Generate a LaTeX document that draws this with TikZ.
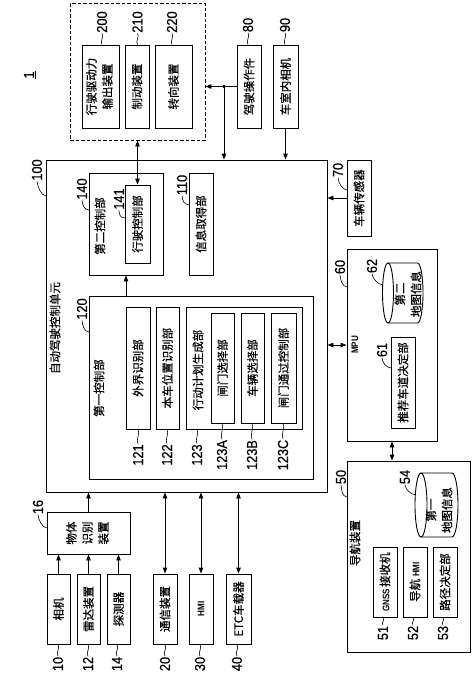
\documentclass[tikz,border=0pt]{standalone}
\usepackage{fontspec}
\usepackage{graphicx}
\setmainfont{Noto Sans CJK SC}[FakeBold=0.6]
\newfontfamily\numfont{Liberation Sans}[FakeStretch=0.88,FakeBold=0.4]
\newfontfamily\latfont{Liberation Sans}[FakeStretch=0.85]
\usetikzlibrary{arrows.meta,calc}
\newcommand\rt[1]{\rotatebox{90}{#1}}
\newcommand\rtt[2]{\rotatebox{90}{\begin{tabular}{@{}c@{}}#1\\#2\end{tabular}}}
\newcommand\rttt[3]{\rotatebox{90}{\begin{tabular}{@{}c@{}}#1\\#2\\#3\end{tabular}}}
\newcommand\smlat[1]{{\latfont\bfseries\fontsize{9.5}{10}\selectfont #1}}
% box from corner (x1,y1) to (x2,y2)
\newcommand\bx[6]{\node[box, minimum width={#4-#2}, minimum height={#5-#3}] (#1) at ({(#2+#4)/2},{(#3+#5)/2}) {#6};}
\begin{document}
\begin{tikzpicture}[x=1pt,y=-1pt,
  box/.style={draw, line width=0.9pt, inner sep=0pt, font=\fontsize{11.5}{16}\selectfont},
  lab/.style={rotate=90, inner sep=0.5pt, font=\numfont\fontsize{14.5}{14.5}\selectfont},
  txt/.style={rotate=90, inner sep=0pt, align=center, font=\fontsize{11.5}{16}\selectfont},
  lead/.style={line width=0.6pt},
  cyl/.style={line width=0.9pt},
  arr/.style={line width=0.9pt, -{Triangle[length=6pt,width=4.5pt]}},
  darr/.style={line width=0.9pt, {Triangle[length=6pt,width=4.5pt]}-{Triangle[length=6pt,width=4.5pt]}},
]
\useasboundingbox (0,0) rectangle (474,673);

% ---------- top row ----------
\node[box, dash pattern=on 3.5pt off 2pt, minimum width=135, minimum height=137] (dash) at (137.5,71.5) {};
\bx{b200}{82}{45}{119}{128}{\rtt{行驶驱动力}{输出装置}}
\bx{b210}{125}{45}{149}{128}{\rt{制动装置}}
\bx{b220}{155}{45}{192}{128}{\rt{转向装置}}
\bx{b80}{237}{45}{261}{128}{\rt{驾驶操作件}}
\bx{b90}{273}{45}{298}{128}{\rt{车室内相机}}

% ---------- automatic driving control unit ----------
\bx{b100}{46}{160}{327}{492}{}
\node[txt] (t100) at (55,328) {自动驾驶控制单元};
\bx{b140}{89}{173}{163}{275}{}
\node[txt] (t140) at (100,226) {第二控制部};
\bx{b141}{125}{185}{150}{263}{\rt{行驶控制部}}
\bx{b110}{189}{173}{213}{275}{\rt{信息取得部}}
\bx{b120}{89}{296}{313}{479}{}
\node[txt] (t120) at (99,388) {第一控制部};
\bx{b121}{126}{307}{150}{429}{\rt{外界识别部}}
\bx{b122}{156}{307}{179}{429}{\rt{本车位置识别部}}
\bx{b123}{186}{307}{302}{429}{}
\node[txt] (t123) at (198,370) {行动计划生成部};
\bx{b123A}{211}{313}{234}{423}{\rt{闸门选择部}}
\bx{b123B}{241}{313}{264}{423}{\rt{车辆选择部}}
\bx{b123C}{271}{313}{296}{423}{\rt{闸门通过控制部}}

% ---------- bottom left ----------
\bx{b16}{47}{512}{130}{554}{\rttt{物体}{识别}{装置}}
\bx{b10}{47}{574}{70}{644}{\rt{相机}}
\bx{b12}{77}{574}{100}{644}{\rt{雷达装置}}
\bx{b14}{107}{574}{130}{644}{\rt{探测器}}
\bx{b20}{153}{574}{177}{644}{\rt{通信装置}}
\bx{b30}{189}{574}{213}{644}{\rt{\smlat{HMI}}}
\bx{b40}{226}{574}{251}{644}{\rt{ETC车载器}}

% ---------- right column ----------
\bx{b70}{347}{160}{371}{236}{\rt{车辆传感器}}
\bx{b60}{347}{249}{437}{441}{}
\node[txt, font=\latfont\bfseries\fontsize{9.5}{10}\selectfont] (t60) at (355,345) {MPU};
\bx{b61}{391}{337}{415}{428}{\rt{推荐车道决定部}}
\draw[cyl] (388,293) ellipse [x radius=5.5, y radius=30];
\draw[cyl] (388,263) -- (417.5,263) arc[start angle=-90, end angle=90, x radius=5.5, y radius=30] -- (388,323);
\node[txt] (c62) at (408,294) {第二\\地图信息};

\bx{b50}{347}{461}{470}{652}{}
\node[txt] (t50) at (355,543) {导航装置};
\draw[cyl] (421,505) ellipse [x radius=6, y radius=32];
\draw[cyl] (421,473) -- (452,473) arc[start angle=-90, end angle=90, x radius=6, y radius=32] -- (421,537);
\node[txt] (c54) at (439,510) {第一\\地图信息};
\bx{b51}{373}{547}{397}{617}{\rt{\smlat{GNSS}\,接收机}}
\bx{b52}{403}{547}{427}{617}{\rt{导航\,\smlat{HMI}}}
\bx{b53}{433}{547}{457}{617}{\rt{路径决定部}}

% ---------- connectors ----------
\coordinate (j80) at (224,86.5);
\draw[arr] (b80.west) -- (dash.east |- b80.west);
\fill (j80) circle (1.8);
\draw[arr] (j80) -- (j80 |- b100.north);
\draw[arr] (b90.south) -- (b90.south |- b100.north);
\draw[darr] (dash.south) -- (b141.north);
\draw[arr] (b140.south |- b120.north) -- (b140.south);
\draw[arr] (b70.west) -- (b70.west -| b100.east);
\coordinate (m60) at (337,345);
\draw[darr] (b60.west |- m60) -- (b100.east |- m60);
\draw[darr] (b60.south) -- (b60.south |- b50.north);
\draw[arr] (b16.north) -- (b16.north |- b100.south);
\foreach \b in {10,12,14} \draw[arr] (b\b.north) -- (b\b.north |- b16.south);
\foreach \b in {20,30,40} \draw[darr] (b\b.north) -- (b\b.north |- b100.south);

% ---------- reference labels ----------
\node[lab] (L1) at (30,75) {\underline{1}};
% top labels
\foreach \n/\x/\y/\bb in {200/102/22/b200, 210/137.5/22/b210, 220/172/22/b220, 80/248/25/b80, 90/285/25/b90}{
  \node[lab] (L\n) at (\x,\y) {\n};
  \draw[lead] (L\n.west) .. controls +(2.5,3) and +(-2.5,-3) .. (L\n.west |- \bb.north);
}
% left-side labels
\foreach \n/\x/\y/\px/\py in {100/37/170/46/196, 140/82/189/89/210, 141/119/199/125/218, 110/182/185/189/205, 120/82/309/89/332, 16/38/507/47/528, 70/338/170/347/190, 60/340/267/347/287, 62/372/266/383/285, 61/382/350/391/368, 50/341/477/347/497, 54/405/477/416/495}{
  \node[lab] (L\n) at (\x,\y) {\n};
  \coordinate (P\n) at (\px,\py);
  \draw[lead] (L\n.west) .. controls +(0.5,5) and +(-5,-0.5) .. (P\n);
}
% bottom labels
\foreach \n/\x/\y/\bb in {121/138/455/b121, 122/167/455/b122, 123/197/455/b123, 123A/222/455/b123A, 123B/252/455/b123B, 123C/283/455/b123C, 10/58/664/b10, 12/88/664/b12, 14/117/664/b14, 20/165/664/b20, 30/200/664/b30, 40/237/664/b40, 51/383/633/b51, 52/413/633/b52, 53/443/633/b53}{
  \node[lab] (L\n) at (\x,\y) {\n};
  \draw[lead] (L\n.east) .. controls +(-2.5,-3) and +(2.5,3) .. (L\n.east |- \bb.south);
}
\end{tikzpicture}
\end{document}
